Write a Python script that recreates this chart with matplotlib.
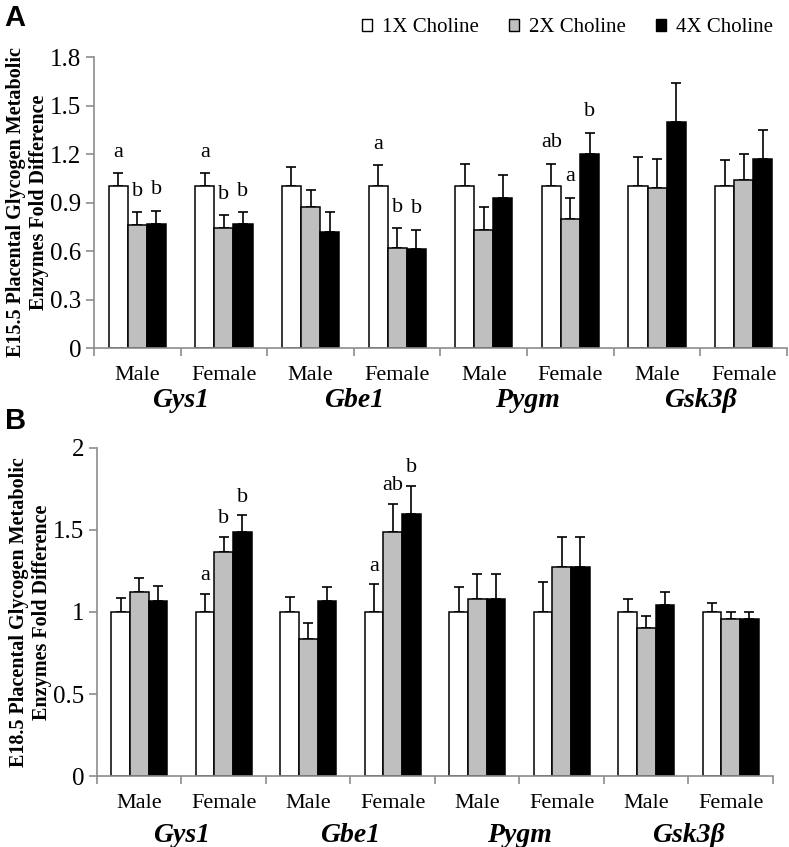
import matplotlib
matplotlib.use("Agg")
import matplotlib.pyplot as plt
from matplotlib.patches import Patch
from matplotlib.ticker import FixedLocator
import numpy as np

SERIF = ["Liberation Serif", "DejaVu Serif"]
plt.rcParams["font.family"] = SERIF

GENES = ["Gys1", "Gbe1", "Pygm", "Gsk3\u03b2"]
SEXES = ["Male", "Female"] * 4
SERIES = ["1X Choline", "2X Choline", "4X Choline"]
COLORS = ["white", "#bfbfbf", "black"]

# panel A (E15.5)
a_1x = [1.00, 1.00, 1.00, 1.00, 1.00, 1.00, 1.00, 1.00]
a_2x = [0.76, 0.74, 0.87, 0.62, 0.73, 0.80, 0.99, 1.04]
a_4x = [0.77, 0.77, 0.72, 0.61, 0.93, 1.20, 1.40, 1.17]
a_1x_top = [1.08, 1.08, 1.12, 1.13, 1.14, 1.14, 1.18, 1.16]
a_2x_top = [0.84, 0.82, 0.98, 0.74, 0.87, 0.93, 1.17, 1.20]
a_4x_top = [0.85, 0.84, 0.84, 0.73, 1.07, 1.33, 1.64, 1.35]
a_letters = {(0, 0): "a", (0, 1): "b", (0, 2): "b",
             (1, 0): "a", (1, 1): "b", (1, 2): "b",
             (3, 0): "a", (3, 1): "b", (3, 2): "b",
             (5, 0): "ab", (5, 1): "a", (5, 2): "b"}

# panel B (E18.5)
b_1x = [1.00, 1.00, 1.00, 1.00, 1.00, 1.00, 1.00, 1.00]
b_2x = [1.12, 1.365, 0.835, 1.49, 1.08, 1.275, 0.90, 0.957]
b_4x = [1.07, 1.49, 1.07, 1.60, 1.08, 1.275, 1.04, 0.957]
b_1x_top = [1.085, 1.11, 1.09, 1.17, 1.15, 1.18, 1.08, 1.055]
b_2x_top = [1.21, 1.46, 0.93, 1.66, 1.23, 1.46, 0.976, 1.00]
b_4x_top = [1.16, 1.59, 1.15, 1.77, 1.23, 1.46, 1.12, 1.00]
b_letters = {(1, 0): "a", (1, 1): "b", (1, 2): "b",
             (3, 0): "a", (3, 1): "ab", (3, 2): "b"}

AX_GRAY = "#8c8c8c"
W = 0.22


def draw_panel(ax, vals, tops, letters, ymax, step, letter_off, ylabel):
    x = np.arange(len(SEXES))
    for i, (v, t, c) in enumerate(zip(vals, tops, COLORS)):
        xs = x + (i - 1) * W
        v = np.array(v)
        ax.bar(xs, v, W, color=c, edgecolor="black", linewidth=1.1, zorder=2)
        err = np.array(t) - v
        ax.errorbar(xs, v, yerr=[np.zeros_like(err), err], fmt="none",
                    ecolor="black", elinewidth=1.2, capsize=3.6, capthick=1.2, zorder=1)
    for (g, s), txt in letters.items():
        ax.text(g + (s - 1) * W, tops[s][g] + letter_off, txt, ha="center",
                va="center", fontsize=16, family=SERIF)
    ax.set_xlim(-0.5, len(SEXES) - 0.5)
    ax.set_ylim(0, ymax)
    yt = np.arange(0, ymax + step / 2, step)
    ax.set_yticks(yt)
    ax.set_yticklabels([f"{t:g}" for t in yt], family=SERIF, fontsize=18)
    ax.set_xticks(x)
    ax.set_xticklabels(SEXES, fontsize=16, family=SERIF)
    ax.xaxis.set_minor_locator(FixedLocator(np.arange(-0.5, len(SEXES), 1.0)))
    ax.tick_params(axis="x", which="major", length=0, pad=13)
    ax.tick_params(axis="x", which="minor", length=6, color=AX_GRAY, width=1.2)
    ax.tick_params(axis="y", length=6, color=AX_GRAY, width=1.2, pad=3)
    for sp in ["top", "right"]:
        ax.spines[sp].set_visible(False)
    for sp in ["bottom", "left"]:
        ax.spines[sp].set_color(AX_GRAY)
        ax.spines[sp].set_linewidth(1.2)
    for k, gname in enumerate(GENES):
        ax.text(2 * k + 0.5, -0.18, gname, transform=ax.get_xaxis_transform(),
                ha="center", va="center", fontsize=20, fontweight="bold",
                fontstyle="italic", family=SERIF)
    ax.set_ylabel(ylabel, fontsize=14.5, fontweight="bold", labelpad=1,
                  linespacing=1.2, family=SERIF)


fig = plt.figure(figsize=(7.89, 8.47), dpi=100)
axA = fig.add_axes([0.1191, 0.5891, 0.8784, 0.3436])
axB = fig.add_axes([0.1229, 0.0838, 0.8568, 0.3873])

draw_panel(axA, [a_1x, a_2x, a_4x], [a_1x_top, a_2x_top, a_4x_top], a_letters,
           1.8, 0.3, 0.13,
           "E15.5 Placental Glycogen Metabolic\nEnzymes Fold Difference")
draw_panel(axB, [b_1x, b_2x, b_4x], [b_1x_top, b_2x_top, b_4x_top], b_letters,
           2.0, 0.5, 0.11,
           "E18.5 Placental Glycogen Metabolic\nEnzymes Fold Difference")

handles = [Patch(facecolor=c, edgecolor="black", linewidth=1.0) for c in COLORS]
fig.legend(handles, SERIES, loc="center right", bbox_to_anchor=(0.995, 0.967),
           ncol=3, frameon=False, prop={"family": SERIF, "size": 15},
           handlelength=0.5, handleheight=0.5,
           handletextpad=0.45, columnspacing=1.45, borderaxespad=0.2)

fig.text(0.006, 0.979, "A", fontsize=21, fontweight="bold",
         family="Liberation Sans", va="center", ha="left")
fig.text(0.006, 0.503, "B", fontsize=21, fontweight="bold",
         family="Liberation Sans", va="center", ha="left")

fig.savefig("out.png", dpi=100)
